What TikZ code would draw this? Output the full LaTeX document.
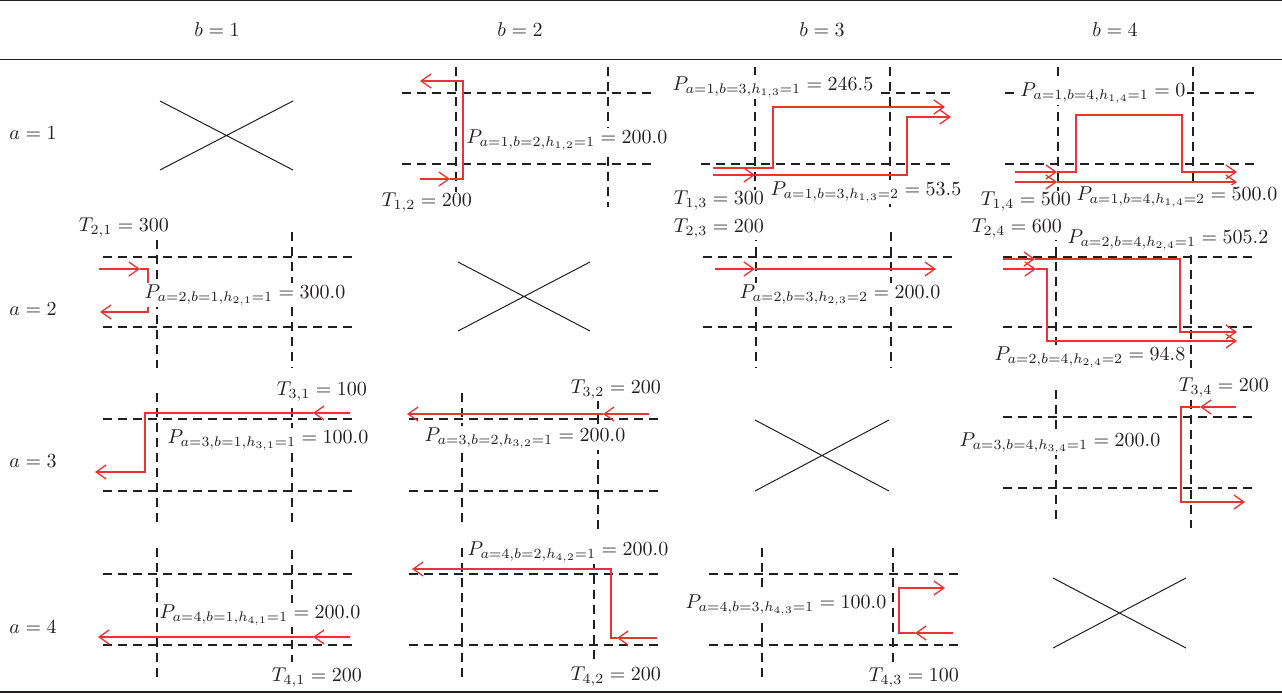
\documentclass[tikz,border=0pt]{standalone}
\usetikzlibrary{arrows.meta}
\definecolor{inkc}{RGB}{35,31,32}
\definecolor{redc}{RGB}{236,50,50}
\tikzset{
  grid/.style={draw=inkc,line width=0.6pt,dash pattern=on 4.5pt off 3pt},
  rl/.style={draw=redc,line width=0.65pt},
  ra/.style={rl,-{Straight Barb[length=5pt,width=7pt]}},
  lab/.style={fill=white,inner sep=0.8pt,text=inkc},
  crossl/.style={draw=inkc,line width=0.5pt},
  rulel/.style={draw=inkc,line width=0.5pt},
}
\begin{document}
\begin{tikzpicture}[x=0.5pt,y=-0.5pt]
\useasboundingbox (0,0) rectangle (1282,695);
% rules
\draw[rulel] (0,1) -- (1282,1);
\draw[rulel] (0,60) -- (1282,60);
\draw[rulel,line width=0.9pt] (0,692) -- (1282,692);
% headers
\node[lab] (hb1) at (217,30) {$b = 1$};
\node[lab] (hb2) at (520,30) {$b = 2$};
\node[lab] (hb3) at (822,30) {$b = 3$};
\node[lab] (hb4) at (1115,30) {$b = 4$};
\node[lab] (ha1) at (33,133) {$a = 1$};
\node[lab] (ha2) at (33,309) {$a = 2$};
\node[lab] (ha3) at (33,461) {$a = 3$};
\node[lab] (ha4) at (33,627) {$a = 4$};
% crosses
\draw[crossl] (160,101) -- (293,170) (160,170) -- (293,101);
\draw[crossl] (458,262) -- (590,331) (458,331) -- (590,262);
\draw[crossl] (755,420) -- (889,491) (755,491) -- (889,420);
\draw[crossl] (1053,578) -- (1186,648) (1053,648) -- (1186,578);

% ===== row 1 =====
% (1,2)
\draw[grid] (402,93) -- (652,93) (402,164) -- (652,164) (456,67) -- (456,207) (608,67) -- (608,207);
\draw[ra] (420,179) -- (450,179);
\draw[ra] (450,179) -- (463,179) -- (463,81) -- (420,81);
\node[lab] (p12) at (567,140) {$P_{a=1,b=2,h_{1,2}=1} = 200.0$};
\node[lab] (t12) at (427,203) {$T_{1,2} = 200$};
% (1,3)
\draw[grid] (701,93) -- (950,93) (701,164) -- (950,164) (755,67) -- (755,207) (890,67) -- (890,207);
\draw[ra] (713,168) -- (773,168) -- (773,107) -- (945,107);
\draw[ra] (713,175) -- (755,175);
\draw[ra] (755,175) -- (907,175) -- (907,117) -- (951,117);
\node[lab] (p131) at (773,87) {$P_{a=1,b=3,h_{1,3}=1} = 246.5$};
\node[lab] (t13) at (719,201) {$T_{1,3} = 300$};
\node[lab] (p132) at (866,192) {$P_{a=1,b=3,h_{1,3}=2} = 53.5$};
% (1,4)
\draw[grid] (1005,93) -- (1255,93) (1005,164) -- (1255,164) (1058,67) -- (1058,207) (1193,67) -- (1193,207);
\draw[ra] (1015,172) -- (1057,172);
\draw[ra] (1057,172) -- (1076,172) -- (1076,115) -- (1182,115) -- (1182,172) -- (1237,172);
\draw[ra] (1015,182) -- (1057,182);
\draw[ra] (1057,182) -- (1237,182);
\node[lab] (p141) at (1103,93) {$P_{a=1,b=4,h_{1,4}=1} = 0$};
\node[lab] (t14) at (1026,202) {$T_{1,4} = 500$};
\node[lab] (p142) at (1177,197) {$P_{a=1,b=4,h_{1,4}=2} = 500.0$};

% ===== row 2 =====
% (2,1)
\draw[grid] (103,257) -- (353,257) (103,327) -- (353,327) (157,240) -- (157,368) (292,232) -- (292,368);
\draw[ra] (99,269) -- (140,269);
\draw[ra] (140,269) -- (148,269) -- (148,312) -- (100,312);
\node[lab] (t21) at (124,228) {$T_{2,1} = 300$};
\node[lab] (p21) at (245,295) {$P_{a=2,b=1,h_{2,1}=1} = 300.0$};
% (2,3)
\draw[grid] (703,257) -- (952,257) (703,327) -- (952,327) (756,232) -- (756,368) (891,232) -- (891,368);
\draw[ra] (715,269) -- (755,269);
\draw[ra] (755,269) -- (936,269);
\node[lab] (t23) at (719,229) {$T_{2,3} = 200$};
\node[lab] (p23) at (840,295) {$P_{a=2,b=3,h_{2,3}=2} = 200.0$};
% (2,4)
\draw[grid] (1003,257) -- (1252,257) (1003,327) -- (1252,327) (1056,232) -- (1056,360) (1191,255) -- (1191,368);
\draw[ra] (1003,259) -- (1035,259);
\draw[ra] (1035,259) -- (1180,259) -- (1180,332) -- (1237,332);
\draw[ra] (1003,269) -- (1036,269);
\draw[ra] (1036,269) -- (1047,269) -- (1047,341) -- (1237,341);
\node[lab] (t24) at (1017,229) {$T_{2,4} = 600$};
\node[lab] (p241) at (1168,240) {$P_{a=2,b=4,h_{2,4}=1} = 505.2$};
\node[lab] (p242) at (1090,357) {$P_{a=2,b=4,h_{2,4}=2} = 94.8$};

% ===== row 3 =====
% (3,1)
\draw[grid] (103,419) -- (353,419) (103,491) -- (353,491) (157,393) -- (157,528) (292,393) -- (292,528);
\draw[ra] (350,413) -- (313,413);
\draw[ra] (313,413) -- (145,413) -- (145,472) -- (95,472);
\node[lab] (t31) at (322,392) {$T_{3,1} = 100$};
\node[lab] (p31) at (268,440) {$P_{a=3,b=1,h_{3,1}=1} = 100.0$};
% (3,2)
\draw[grid] (409,419) -- (658,419) (409,491) -- (658,491) (462,393) -- (462,528) (598,400) -- (598,530);
\draw[ra] (649,414) -- (603,414);
\draw[ra] (603,414) -- (407,414);
\node[lab] (t32) at (616,390) {$T_{3,2} = 200$};
\node[lab] (p32) at (525,438) {$P_{a=3,b=2,h_{3,2}=1} = 200.0$};
% (3,4)
\draw[grid] (1003,417) -- (1252,417) (1003,488) -- (1252,488) (1056,390) -- (1056,525) (1191,400) -- (1191,528);
\draw[ra] (1236,407) -- (1200,407);
\draw[ra] (1200,407) -- (1181,407) -- (1181,502) -- (1245,502);
\node[lab] (t34) at (1224,388) {$T_{3,4} = 200$};
\node[lab] (p34) at (1060,443) {$P_{a=3,b=4,h_{3,4}=1} = 200.0$};

% ===== row 4 =====
% (4,1)
\draw[grid] (103,574) -- (353,574) (103,645) -- (353,645) (157,548) -- (157,682) (292,550) -- (292,662);
\draw[ra] (350,637) -- (313,637);
\draw[ra] (313,637) -- (98,637);
\node[lab] (p41) at (260,615) {$P_{a=4,b=1,h_{4,1}=1} = 200.0$};
\node[lab] (t41) at (317,678) {$T_{4,1} = 200$};
% (4,2)
\draw[grid] (409,574) -- (658,574) (409,645) -- (658,645) (462,548) -- (462,682) (594,560) -- (594,662);
\draw[ra] (657,638) -- (617,638);
\draw[ra] (617,638) -- (611,638) -- (611,569) -- (412,569);
\node[lab] (p42) at (568,552) {$P_{a=4,b=2,h_{4,2}=1} = 200.0$};
\node[lab] (t42) at (616,677) {$T_{4,2} = 200$};
% (4,3)
\draw[grid] (709,574) -- (958,574) (709,645) -- (958,645) (762,548) -- (762,682) (893,548) -- (893,662);
\draw[ra] (953,633) -- (915,633);
\draw[ra] (915,633) -- (899,633) -- (899,588) -- (945,588);
\node[lab] (p43) at (786,605) {$P_{a=4,b=3,h_{4,3}=1} = 100.0$};
\node[lab] (t43) at (914,678) {$T_{4,3} = 100$};
\end{tikzpicture}
\end{document}
